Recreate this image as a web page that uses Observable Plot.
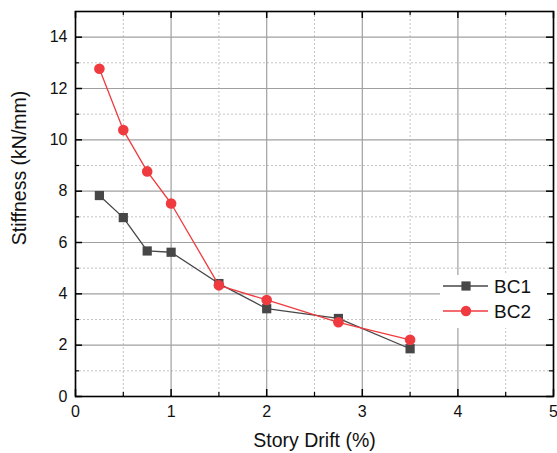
<!DOCTYPE html>
<html>
<head>
<meta charset="utf-8">
<script src="https://cdn.jsdelivr.net/npm/d3@7"></script>
<script src="https://cdn.jsdelivr.net/npm/@observablehq/plot@0.6"></script>
<style>
  html, body { margin: 0; padding: 0; background: #fff; }
  #wrap { position: relative; width: 557px; height: 453px; font-family: "Liberation Sans", Arial, sans-serif; }
  #legend { position: absolute; left: 440px; top: 275px; width: 107px; height: 53px; background: #fff; }
  #ylabel { position: absolute; left: 20px; top: 168px; transform: translate(-50%, -50%) rotate(-90deg); white-space: nowrap; font-size: 19.5px; color: #111; line-height: 1; }
</style>
</head>
<body>
<div id="wrap">
  <div id="chart"></div>
  <div id="legend"></div>
  <div id="ylabel"></div>
</div>
<script>
const drift = [0.25, 0.5, 0.75, 1.0, 1.5, 2.0, 2.75, 3.5];
const bc1 = [7.83, 6.97, 5.67, 5.62, 4.40, 3.42, 3.04, 1.86];
const bc2 = [12.77, 10.38, 8.77, 7.52, 4.33, 3.76, 2.89, 2.21];
const seriesNames = ["BC1", "BC2"];
const seriesColors = ["#474747", "#ef3b3f"];
const seriesSymbols = ["square", "circle"];
const xMajor = [0, 1, 2, 3, 4, 5];
const xMinor = [0.5, 1.5, 2.5, 3.5, 4.5];
const yMajor = [0, 2, 4, 6, 8, 10, 12, 14];
const yMinor = [1, 3, 5, 7, 9, 11, 13];
const xTitle = "Story Drift (%)";
const yTitle = "Stiffness (kN/mm)";

const rows = [];
[bc1, bc2].forEach((vals, i) => vals.forEach((v, j) => rows.push({series: seriesNames[i], x: drift[j], y: v})));
const s1 = rows.filter(d => d.series === "BC1");
const s2 = rows.filter(d => d.series === "BC2");

const W = 557, H = 453, mL = 75, mR = 4, mT = 11, mB = 57;
const pw = W - mL - mR, ph = H - mT - mB;
const maj = 7, mnr = 4;
const font = "Liberation Sans, Arial, sans-serif";

const chart = Plot.plot({
  width: W, height: H,
  marginLeft: mL, marginRight: mR, marginTop: mT, marginBottom: mB,
  style: {fontFamily: font, background: "#fff"},
  x: {domain: [0, 5]},
  y: {domain: [0, 15]},
  marks: [
    // grid
    Plot.ruleX(xMinor, {stroke: "#c4c4c4", strokeDasharray: "2,2", strokeWidth: 1}),
    Plot.ruleY(yMinor, {stroke: "#c4c4c4", strokeDasharray: "2,2", strokeWidth: 1}),
    Plot.ruleX(xMajor, {stroke: "#a0a0a0", strokeWidth: 1.2}),
    Plot.ruleY(yMajor, {stroke: "#a0a0a0", strokeWidth: 1.2}),
    // inward ticks, all four sides
    Plot.tickX(xMajor, {x: d => d, insetTop: ph - maj, stroke: "#000", strokeWidth: 1.5}),
    Plot.tickX(xMajor, {x: d => d, insetBottom: ph - maj, stroke: "#000", strokeWidth: 1.5}),
    Plot.tickX(xMinor, {x: d => d, insetTop: ph - mnr, stroke: "#000", strokeWidth: 1.2}),
    Plot.tickX(xMinor, {x: d => d, insetBottom: ph - mnr, stroke: "#000", strokeWidth: 1.2}),
    Plot.tickY(yMajor, {y: d => d, insetRight: pw - maj, stroke: "#000", strokeWidth: 1.5}),
    Plot.tickY(yMajor, {y: d => d, insetLeft: pw - maj, stroke: "#000", strokeWidth: 1.5}),
    Plot.tickY(yMinor, {y: d => d, insetRight: pw - mnr, stroke: "#000", strokeWidth: 1.2}),
    Plot.tickY(yMinor, {y: d => d, insetLeft: pw - mnr, stroke: "#000", strokeWidth: 1.2}),
    Plot.frame({stroke: "#000", strokeWidth: 1.6}),
    // axes labels
    Plot.axisX(xMajor, {tickSize: 0, tickPadding: 9, fontSize: 16, label: null, tickFormat: d => String(d), fill: "#111"}),
    Plot.axisY(yMajor, {tickSize: 0, tickPadding: 8, fontSize: 16, label: null, tickFormat: d => String(d), fill: "#111"}),
    Plot.text([xTitle], {frameAnchor: "bottom", dy: 44, fontSize: 19.5, fill: "#111", lineAnchor: "middle"}),
    // data
    Plot.line(s1, {x: "x", y: "y", stroke: seriesColors[0], strokeWidth: 1.3}),
    Plot.dot(s1, {x: "x", y: "y", symbol: seriesSymbols[0], r: 5.2, fill: seriesColors[0], stroke: "none"}),
    Plot.line(s2, {x: "x", y: "y", stroke: seriesColors[1], strokeWidth: 1.3}),
    Plot.dot(s2, {x: "x", y: "y", symbol: seriesSymbols[1], r: 5.3, fill: seriesColors[1], stroke: "none"})
  ]
});
document.getElementById("chart").appendChild(chart);
document.getElementById("ylabel").textContent = yTitle;

// legend
const NS = "http://www.w3.org/2000/svg";
const lg = document.createElementNS(NS, "svg");
lg.setAttribute("width", 107); lg.setAttribute("height", 53);
seriesNames.forEach((name, i) => {
  const cy = 11 + i * 25;
  const ln = document.createElementNS(NS, "line");
  ln.setAttribute("x1", 3); ln.setAttribute("x2", 48);
  ln.setAttribute("y1", cy); ln.setAttribute("y2", cy);
  ln.setAttribute("stroke", seriesColors[i]); ln.setAttribute("stroke-width", 1.3);
  lg.appendChild(ln);
  const p = document.createElementNS(NS, "path");
  p.setAttribute("d", d3.symbol(seriesSymbols[i] === "square" ? d3.symbolSquare : d3.symbolCircle, Math.PI * 5.2 * 5.2)());
  p.setAttribute("transform", `translate(26,${cy})`);
  p.setAttribute("fill", seriesColors[i]);
  lg.appendChild(p);
  const t = document.createElementNS(NS, "text");
  t.setAttribute("x", 54); t.setAttribute("y", cy);
  t.setAttribute("dy", "0.36em");
  t.setAttribute("font-size", 19);
  t.setAttribute("font-family", font);
  t.setAttribute("fill", "#111");
  t.textContent = name;
  lg.appendChild(t);
});
document.getElementById("legend").appendChild(lg);
</script>
</body>
</html>
